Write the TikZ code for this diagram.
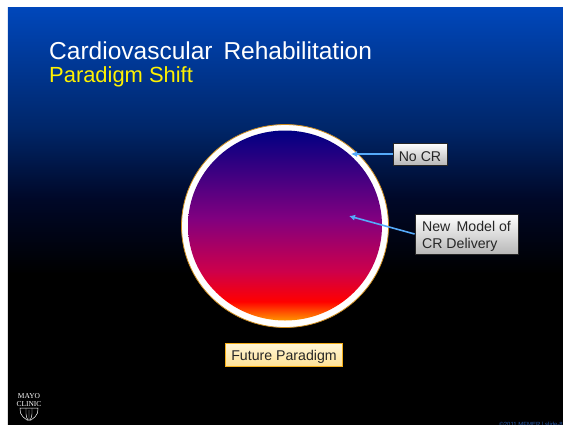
\documentclass[tikz,border=0pt]{standalone}
\usepackage{fontspec}
\setmainfont{Liberation Sans}
\newfontfamily\logofont{Liberation Serif}
\usepackage{tikz}
\usetikzlibrary{arrows.meta,shapes.geometric}
\definecolor{slidetop}{RGB}{0,71,187}
\definecolor{slidemid}{RGB}{0,38,105}
\definecolor{slidelow}{RGB}{0,8,40}
\definecolor{tiplabel}{RGB}{85,170,250}
\definecolor{marktext}{RGB}{40,90,170}
\definecolor{ringedge}{RGB}{205,140,30}
\definecolor{futureedge}{RGB}{245,175,25}
\definecolor{futuretop}{RGB}{255,246,215}
\definecolor{futurelow}{RGB}{255,226,150}
\definecolor{disctop}{RGB}{0,0,130}
\definecolor{discmid}{RGB}{128,0,128}
\definecolor{disclow}{RGB}{205,0,75}
\definecolor{discred}{RGB}{255,0,0}
\definecolor{discend}{RGB}{255,150,0}
\pgfdeclareverticalshading{slideshade}{100bp}{
  color(0bp)=(black); color(43bp)=(black); color(52bp)=(slidelow);
  color(60.5bp)=(slidemid); color(75bp)=(slidetop); color(100bp)=(slidetop)}
\pgfdeclareverticalshading{discshade}{100bp}{
  color(0bp)=(discend); color(25bp)=(discend); color(30bp)=(discred);
  color(38bp)=(disclow); color(52bp)=(discmid); color(75bp)=(disctop); color(100bp)=(disctop)}
\begin{document}
\begin{tikzpicture}[
  x=1bp, y=-1bp,
  every node/.style={font=\fontsize{14.2}{17}\selectfont},
  slidebg/.style={inner sep=0pt, outer sep=0pt, minimum width=555bp, minimum height=417bp, shading=slideshade},
  ring/.style={ellipse, draw=ringedge, line width=0.8pt, fill=white, inner sep=0pt, minimum width=207bp, minimum height=203bp},
  disc/.style={ellipse, inner sep=0pt, minimum width=194bp, minimum height=190bp, shading=discshade},
  callout/.style={draw=black!85, line width=0.8pt, top color=white, bottom color=black!28, text=black!85, inner sep=0pt, align=left},
  futurebox/.style={draw=futureedge, line width=0.8pt, top color=futuretop, bottom color=futurelow, text=black!85, inner sep=0pt, align=center, text height=12bp, text depth=1bp},
  flow/.style={-{Latex[length=6bp,width=6bp]}, draw=tiplabel, line width=1.6pt},
  shieldline/.style={draw=white, line width=0.5pt}
]
\useasboundingbox (0,0) rectangle (563,424);
\fill[white] (0,0) rectangle (563,424);

\node[slidebg] (slide) at (285.5,215.5) {};

\node[anchor=west, inner sep=0pt, text=white, font=\fontsize{24.6}{28}\selectfont] (title) at (49,51) {Cardiovascular\, Rehabilitation};
\node[anchor=west, inner sep=0pt, text=yellow, font=\fontsize{22}{26}\selectfont] (subtitle) at (49,77) {Paradigm Shift};

\node[ring] (outer) at (285,226) {};
\node[disc] (inner) at (285,225.5) {};

\node[callout, minimum width=54bp, minimum height=22bp, text height=14bp, text depth=0bp] (nocr) at (420,154) {No CR};
\node[callout, minimum width=103bp, minimum height=40bp, text height=29bp, text depth=1bp] (model) at (466.5,234) {New\, Model of\\CR Delivery};
\node[futurebox, minimum width=117bp, minimum height=23bp] (future) at (284,355) {Future Paradigm};

\coordinate (nocrtip) at (351,154);
\coordinate (modeltip) at (349,216);
\draw[flow] (nocr.west) -- (nocrtip);
\draw[flow] (model.west) -- (modeltip);

% logo
\node[text=white, align=center, inner sep=0pt, font=\logofont\fontsize{7.5}{7.5}\selectfont] (logo) at (29,400) {MAYO\\CLINIC};
\draw[shieldline] (20,408) -- (38,408) -- (37.5,413) .. controls (36.5,416) and (34,418) .. (31,420) -- (27,420) .. controls (24,418) and (21.5,416) .. (20.5,413) -- cycle;
\draw[shieldline] (26,408) -- (26,414) .. controls (26,417) and (27,418) .. (28,420) (32,408) -- (32,414) .. controls (32,417) and (31,418) .. (30,420) (29,410) -- (29,420);

\node[anchor=north east, text=marktext, inner sep=0pt, font=\fontsize{6}{7}\selectfont] (mark) at (563,421.5) {©2011 MFMER | slide-8};
\end{tikzpicture}
\end{document}
